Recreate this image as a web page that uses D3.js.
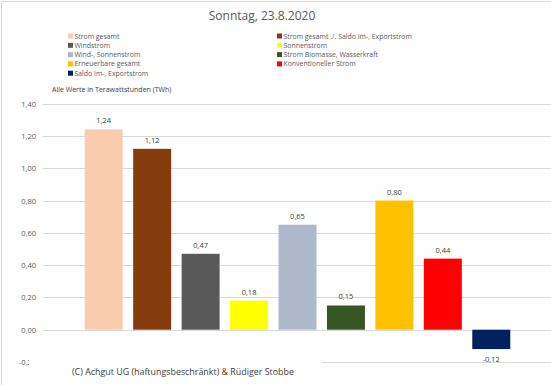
<!DOCTYPE html>
<html>
<head>
<meta charset="utf-8">
<script src="https://cdn.jsdelivr.net/npm/d3@7"></script>
<style>
  body { margin: 0; background: #fff; }
  text { font-family: 'Open Sans', sans-serif; }
</style>
</head>
<body>
<div id="chart"></div>
<script>
// data
const categories = ['Strom gesamt', 'Strom gesamt ./. Saldo Im-, Exportstrom', 'Windstrom', 'Sonnenstrom',
  'Wind-, Sonnenstrom', 'Strom Biomasse, Wasserkraft', 'Erneuerbare gesamt', 'Konventioneller Strom', 'Saldo Im-, Exportstrom']
const values = [1.24, 1.12, 0.47, 0.18, 0.65, 0.15, 0.80, 0.44, -0.12]
const colors = ['#f8cbad', '#843c0c', '#595959', '#ffff00', '#adb9ca', '#375623', '#ffc000', '#ff0000', '#002060']
const yTicks = [-0.2, 0, 0.2, 0.4, 0.6, 0.8, 1.0, 1.2, 1.4]

const width = 551
const height = 385

const svg = d3.select('#chart').append('svg').attr('width', width).attr('height', height)

// border
svg.append('path').attr('d', 'M1.5,385V1.5H551').attr('fill', 'none').attr('stroke', '#d9d9d9')

const fmt = v => d3.format('.2f')(v).replace('.', ',').replace('−', '-')

const x = d3.scaleBand().domain(categories).range([79.5, 515.5]).paddingInner(0.216).paddingOuter(0.108)
const y = d3.scaleLinear().domain([-0.2, 1.4]).range([362, 103.6])

// grid
const grid = svg.append('g')
grid.selectAll('line').data(yTicks).enter().append('line')
  .attr('x1', 43).attr('x2', 551)
  .attr('y1', d => Math.round(y(d)) + 0.5).attr('y2', d => Math.round(y(d)) + 0.5)
  .attr('stroke', '#d9d9d9')

// y labels
svg.append('g').selectAll('text').data(yTicks).enter().append('text')
  .attr('x', 36).attr('y', d => y(d) + 3)
  .attr('text-anchor', 'end')
  .attr('fill', '#595959').style('font-size', '7.5px')
  .text(d => fmt(d))

// bars
svg.append('g').selectAll('rect').data(values).enter().append('rect')
  .attr('x', (d, i) => x(categories[i]))
  .attr('width', x.bandwidth())
  .attr('y', d => y(Math.max(0, d)))
  .attr('height', d => Math.abs(y(d) - y(0)))
  .attr('fill', (d, i) => colors[i])

// value labels
svg.append('g').selectAll('text').data(values).enter().append('text')
  .attr('x', (d, i) => x(categories[i]) + x.bandwidth() / 2)
  .attr('y', d => d >= 0 ? y(d) - 6 : y(d) + 13)
  .attr('text-anchor', 'middle')
  .attr('fill', '#404040').style('font-size', '7.5px')
  .text(d => fmt(d))

// title
svg.append('text').attr('x', 262).attr('y', 20).attr('text-anchor', 'middle')
  .attr('fill', '#595959').style('font-size', '12px')
  .text('Sonntag, 23.8.2020')

// legend
const legend = svg.append('g')
categories.forEach((c, i) => {
  const col = i % 2
  const row = Math.floor(i / 2)
  const lx = col === 0 ? 68 : 277
  const ly = 36 + row * 9.3
  legend.append('rect').attr('x', lx).attr('y', ly - 2.5).attr('width', 5).attr('height', 5).attr('fill', colors[i])
  legend.append('text').attr('x', lx + 6.5).attr('y', ly + 2.5)
    .attr('fill', '#595959').style('font-size', '6.9px')
    .text(c)
})

svg.append('text').attr('x', 52).attr('y', 92)
  .attr('fill', '#404040').style('font-size', '7px')
  .text('Alle Werte in Terawattstunden (TWh)')

// copyright box
svg.append('rect').attr('x', 29).attr('y', 358).attr('width', 293).attr('height', 27).attr('fill', '#fff')
svg.append('text').attr('x', 72).attr('y', 375)
  .attr('fill', '#404040').style('font-size', '8.9px')
  .text('(C) Achgut UG (haftungsbeschränkt) & Rüdiger Stobbe')
</script>
</body>
</html>
